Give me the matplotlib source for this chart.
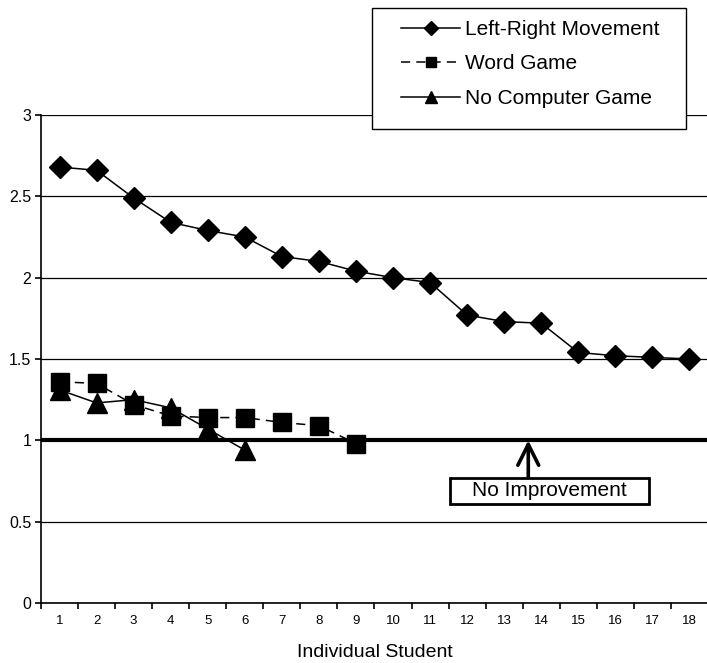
import numpy as np
import matplotlib
matplotlib.use("Agg")
import matplotlib.pyplot as plt
from matplotlib.patches import Rectangle

plt.rcParams["font.family"] = ["Liberation Sans", "DejaVu Sans"]

students = list(range(1, 19))
left_right = [2.68, 2.66, 2.49, 2.34, 2.29, 2.25, 2.13, 2.10, 2.04,
              2.00, 1.97, 1.77, 1.73, 1.72, 1.54, 1.52, 1.51, 1.50]
word_game = [1.36, 1.35, 1.22, 1.15, 1.14, 1.14, 1.11, 1.09, 0.98]
no_computer = [1.31, 1.23, 1.25, 1.20, 1.07, 0.94]
y_ticks = [0, 0.5, 1, 1.5, 2, 2.5, 3]
baseline = 1.0
baseline_label = "No Improvement"


def main():
    fig = plt.figure(figsize=(7.07, 6.63), dpi=100)
    ax = fig.add_axes([41 / 707, 60 / 663, 667 / 707, 488 / 663])

    x = np.array(students)
    l1, = ax.plot(x, left_right, color="black", lw=1.1, marker="D", ms=11.2,
                  label="Left-Right Movement")
    l2, = ax.plot(x[:len(word_game)], word_game, color="black", lw=1.1,
                  ls=(0, (6, 4)), marker="s", ms=13, label="Word Game")
    l3, = ax.plot(x[:len(no_computer)], no_computer, color="black", lw=1.1,
                  marker="^", ms=15, label="No Computer Game")

    ax.axhline(baseline, color="black", lw=3.0, zorder=1)

    ax.set_xlim(0.5, len(students) + 0.5)
    ax.set_ylim(0, 3)
    ax.set_yticks(y_ticks)
    ax.set_yticklabels([("%g" % v) for v in y_ticks], fontsize=11.5)
    ax.yaxis.grid(True, color="black", lw=0.9)
    ax.set_axisbelow(True)

    ax.set_xticks(x)
    ax.set_xticklabels([str(s) for s in students], fontsize=9.5)
    ax.set_xticks(np.arange(0.5, len(students) + 1, 1), minor=True)
    ax.tick_params(axis="x", which="major", length=0, pad=9)
    ax.tick_params(axis="x", which="minor", length=4, width=1.2, direction="out")
    ax.tick_params(axis="y", length=4, width=1.2, direction="out", pad=3)

    for s in ["top", "right"]:
        ax.spines[s].set_visible(False)
    for s in ["left", "bottom"]:
        ax.spines[s].set_linewidth(1.2)

    ax.set_xlabel("Individual Student", fontsize=14, labelpad=12)

    # "No Improvement" callout
    ax.annotate("", xy=(13.65, baseline), xytext=(13.65, 0.77),
                arrowprops=dict(arrowstyle="->,head_length=1.5,head_width=0.75",
                                lw=2.6, color="black", shrinkA=0, shrinkB=0))
    ax.add_patch(Rectangle((11.54, 0.61), 5.38, 0.16, fc="white", ec="black",
                           lw=2.0, zorder=3))
    ax.text(14.23, 0.69, baseline_label, fontsize=15, ha="center",
            va="center", zorder=4)

    # legend box
    fig.patches.append(Rectangle((372 / 707, 1 - 129 / 663), 314 / 707,
                                 121 / 663, transform=fig.transFigure,
                                 fc="white", ec="black", lw=1.0, zorder=5))
    leg = fig.legend(handles=[l1, l2, l3], loc="upper left",
                     bbox_to_anchor=(401 / 707, 1 - 20 / 663), frameon=False,
                     fontsize=15, markerscale=0.6, handlelength=2.85,
                     handletextpad=0.2, labelspacing=0.74, borderpad=0,
                     borderaxespad=0)
    leg.set_zorder(6)

    fig.savefig("out.png", dpi=100)


if __name__ == "__main__":
    main()
